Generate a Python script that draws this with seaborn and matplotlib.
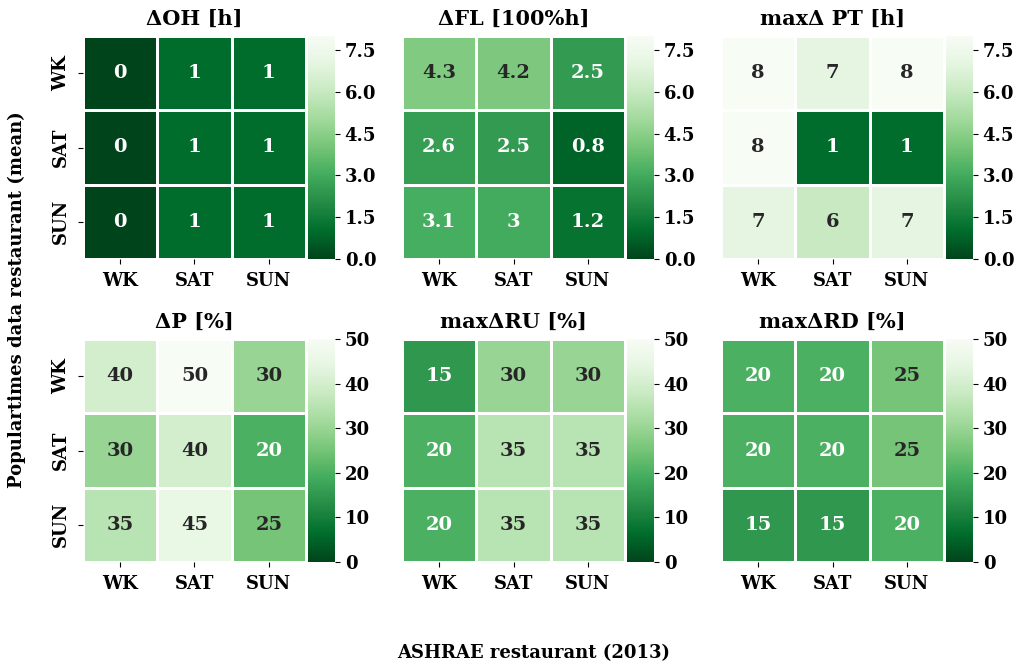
import matplotlib
matplotlib.use("Agg")
import matplotlib.pyplot as plt
import seaborn as sns
import numpy as np

# Day-type categories (rows: Populartimes mean, columns: ASHRAE 2013)
days = ["WK", "SAT", "SUN"]

titles = ["ΔOH [h]", "ΔFL [100%h]", "maxΔ PT [h]",
          "ΔP [%]", "maxΔRU [%]", "maxΔRD [%]"]

delta_oh = [[0, 1, 1],
            [0, 1, 1],
            [0, 1, 1]]
delta_fl = [[4.3, 4.2, 2.5],
            [2.6, 2.5, 0.8],
            [3.1, 3.0, 1.2]]
max_delta_pt = [[8, 7, 8],
                [8, 1, 1],
                [7, 6, 7]]
delta_p = [[40, 50, 30],
           [30, 40, 20],
           [35, 45, 25]]
max_delta_ru = [[15, 30, 30],
                [20, 35, 35],
                [20, 35, 35]]
max_delta_rd = [[20, 20, 25],
                [20, 20, 25],
                [15, 15, 20]]

panels = [delta_oh, delta_fl, max_delta_pt, delta_p, max_delta_ru, max_delta_rd]
vmaxes = [8, 8, 8, 50, 50, 50]

plt.rcParams["font.family"] = ["DejaVu Serif"]
plt.rcParams["font.weight"] = "bold"

W, H = 1019, 667
fig = plt.figure(figsize=(W / 100, H / 100), dpi=100)

col_left = [83, 402, 721]
row_top = [36, 339]
size = 223
cb_gap = 2
cb_w = 27

for i, (data, title, vmax) in enumerate(zip(panels, titles, vmaxes)):
    r, c = divmod(i, 3)
    x0 = col_left[c]
    y0 = row_top[r]
    ax = fig.add_axes([x0 / W, 1 - (y0 + size) / H, size / W, size / H])
    cax = fig.add_axes([(x0 + size + cb_gap) / W, 1 - (y0 + size) / H,
                        cb_w / W, size / H])
    sns.heatmap(np.array(data, dtype=float), ax=ax, cbar_ax=cax,
                cmap="Greens_r", vmin=0, vmax=vmax,
                annot=True, fmt="g",
                annot_kws={"fontsize": 14, "fontweight": "bold"},
                linewidths=2, linecolor="white",
                xticklabels=days, yticklabels=days if c == 0 else False)
    ax.set_title(title, fontsize=15, fontweight="bold", pad=8)
    ax.tick_params(labelsize=13, pad=6)
    for lab in ax.get_xticklabels() + ax.get_yticklabels():
        lab.set_fontweight("bold")
    for lab in ax.get_yticklabels():
        lab.set_rotation(90)
        lab.set_va("center")
    if vmax == 8:
        cax.set_yticks([0, 1.5, 3.0, 4.5, 6.0, 7.5])
        cax.set_yticklabels(["0.0", "1.5", "3.0", "4.5", "6.0", "7.5"])
    else:
        cax.set_yticks([0, 10, 20, 30, 40, 50])
    cax.tick_params(labelsize=13)
    for lab in cax.get_yticklabels():
        lab.set_fontweight("bold")

fig.text(534 / W, 1 - 653 / H, "ASHRAE restaurant (2013)",
         ha="center", va="center", fontsize=13, fontweight="bold")
fig.text(17 / W, 1 - 300 / H, "Populartimes data restaurant (mean)",
         ha="center", va="center", rotation=90, fontsize=13, fontweight="bold")

fig.savefig("out.png", dpi=100)
